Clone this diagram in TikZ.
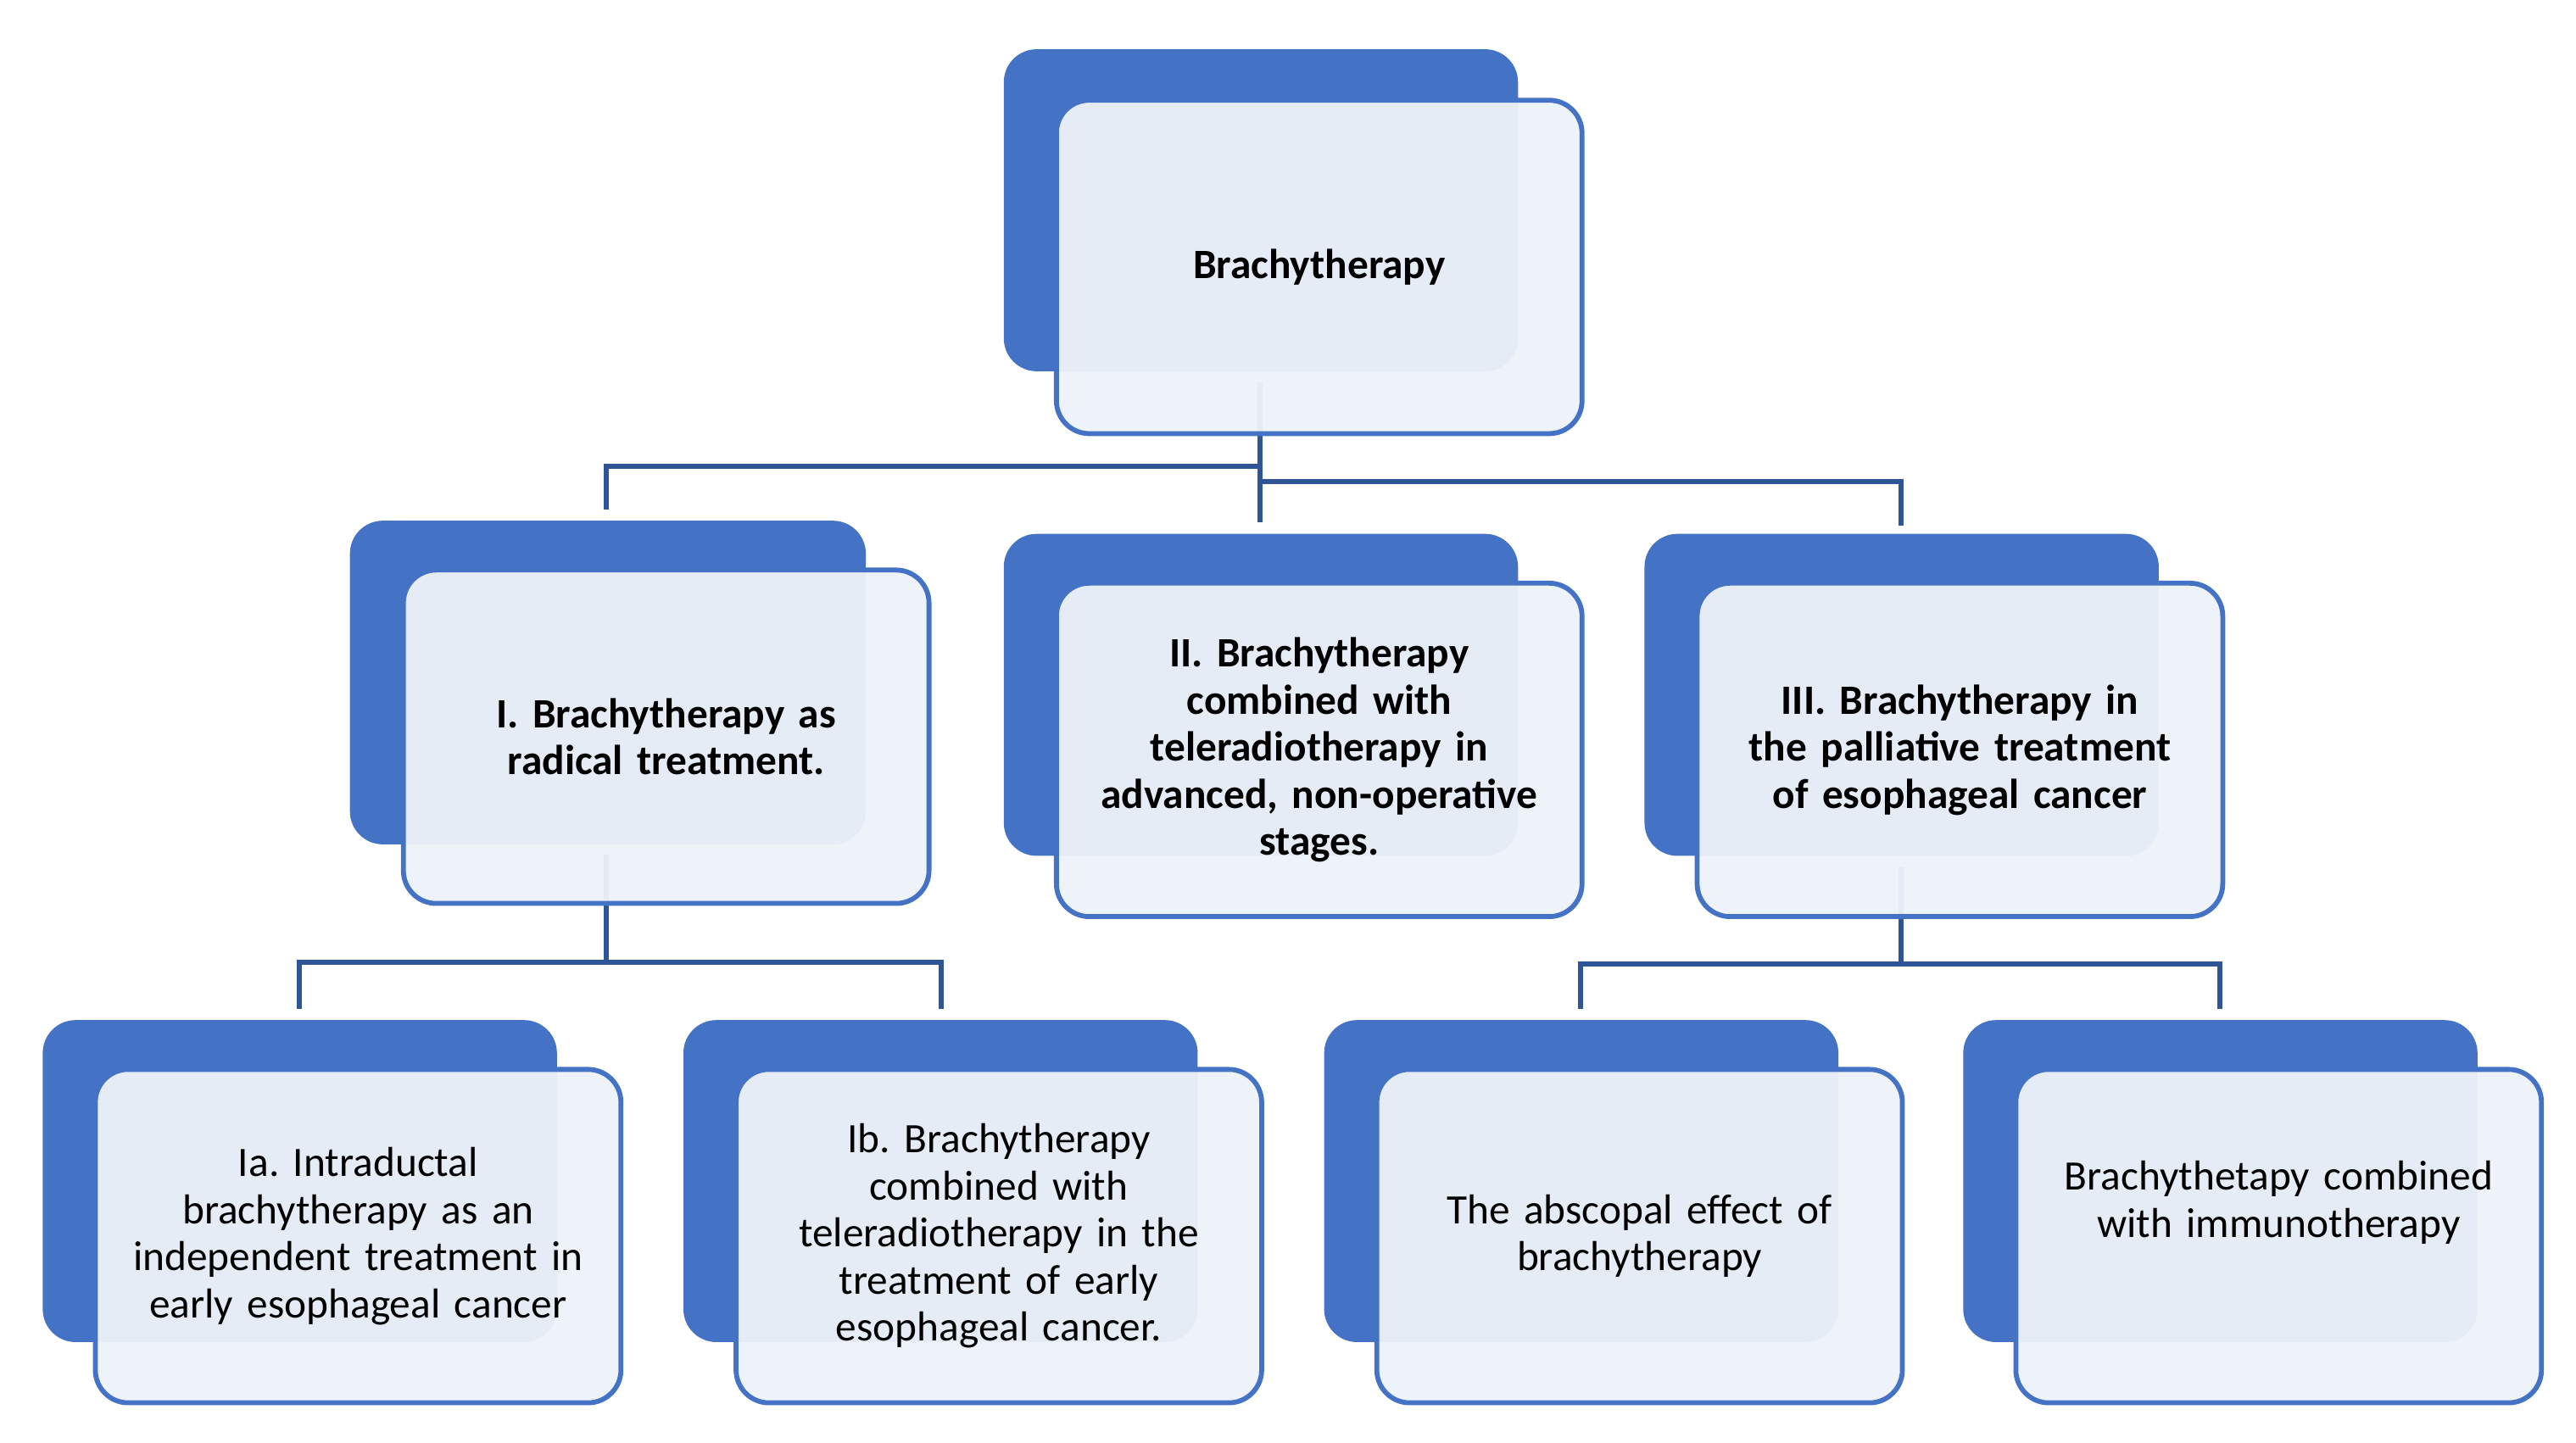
\documentclass[tikz,border=0pt]{standalone}
\usepackage{fontspec}
\setmainfont{Carlito}
\definecolor{dk}{HTML}{4472C4}
\definecolor{ln}{HTML}{2F5597}
\definecolor{lt}{HTML}{EDF1F9}
\begin{document}
\hyphenpenalty=10000 \exhyphenpenalty=10000 \frenchspacing
\begin{tikzpicture}[x=0.02cm,y=-0.02cm,
 back/.style={fill=dk,rounded corners=0.4cm},
 front/.style={draw=dk,line width=1.7pt,fill=lt,fill opacity=0.96,text opacity=1,rounded corners=0.4cm,minimum width=6.4cm,minimum height=4.06cm},
 lbl/.style={align=center,text width=6.0cm,font=\fontsize{14.5}{16.3}\selectfont},
 con/.style={draw=ln,line width=1.8pt}]
\useasboundingbox (0,0) rectangle (1568,878);
% backs
\foreach \n/\a/\b/\c/\d in {t/611/30/924/226, p1/213/317/527/514, p2/611/325/924/521, p3/1001/325/1314/521,
 a/26/621/339/817, b/416/621/729/817, c/806/621/1119/817, d/1195/621/1508/817}
 \fill[back] (\a,\b) rectangle (\c,\d);
% connectors
\coordinate (t0) at (767,233); \coordinate (tm) at (767,318);
\coordinate (l1) at (369,310); \coordinate (r1) at (1157,320);
\draw[con] (t0) -- (tm);
\draw[con] (767,284) -| (l1);
\draw[con] (767,293) -| (r1);
\coordinate (i0) at (369,520); \coordinate (ia) at (182,614); \coordinate (ib) at (573,614);
\draw[con] (i0) -- (369,586);
\draw[con] (ia) -- (182,586) -- (573,586) -- (ib);
\coordinate (k0) at (1157,528); \coordinate (kc) at (962,614); \coordinate (kd) at (1351,614);
\draw[con] (k0) -- (1157,587);
\draw[con] (kc) |- (1157,587);
\draw[con] (1157,587) -- (1351,587) -- (kd);
% fronts
\node[front,lbl] (T) at (803,162.5) {\textbf{Brachytherapy}};
\node[front,lbl] (P1) at (405.5,448.5) {\textbf{I. Brachytherapy as radical treatment.}};
\node[front,lbl] (P2) at (803,456.5) {\textbf{II. Brachytherapy\\ combined with\\ teleradiotherapy in\\ advanced, non-operative\\ stages.}};
\node[front,lbl] (P3) at (1193,456.5) {\textbf{III. Brachytherapy in the palliative treatment of esophageal cancer}};
\node[front,lbl] (A) at (218,752.5) {Ia. Intraductal\\ brachytherapy as an\\ independent treatment in\\ early esophageal cancer};
\node[front,lbl] (B) at (608,752.5) {Ib. Brachytherapy\\ combined with\\ teleradiotherapy in the\\ treatment of early\\ esophageal cancer.};
\node[front,lbl] (C) at (998,752.5) {The abscopal effect of\\ brachytherapy};
\node[front] (D) at (1387,752.5) {};
\node[lbl] at (1387,732) {Brachythetapy combined\\ with immunotherapy};
\end{tikzpicture}
\end{document}
